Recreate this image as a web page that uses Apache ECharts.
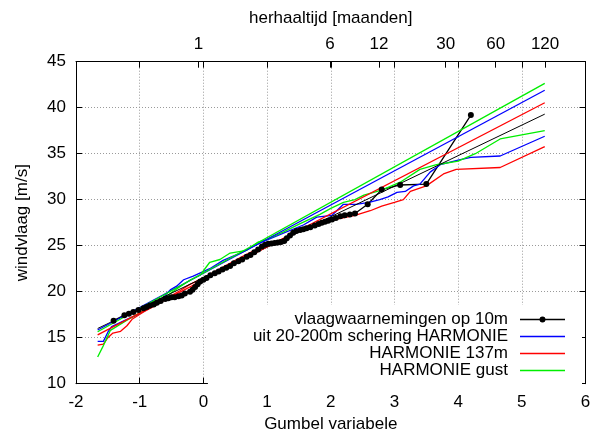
<!DOCTYPE html>
<html><head><meta charset="utf-8">
<script src="https://cdn.jsdelivr.net/npm/echarts@6/dist/echarts.min.js"></script>
<style>html,body{margin:0;padding:0;background:#fff}#c{width:595px;height:440px}</style>
</head><body><div id="c"></div>
<script>
// ---- data (Gumbel variable, wind gust m/s) ----
const obsX = [-1.41,-1.24,-1.17,-1.1,-1.02,-0.94,-0.89,-0.84,-0.78,-0.73,-0.67,-0.6,-0.55,-0.5,-0.45,-0.39,-0.34,-0.29,-0.21,-0.17,-0.13,-0.09,-0.05,0.0,0.05,0.11,0.18,0.24,0.3,0.36,0.42,0.48,0.55,0.61,0.68,0.74,0.8,0.86,0.92,0.97,1.02,1.07,1.12,1.17,1.22,1.27,1.31,1.36,1.41,1.46,1.52,1.57,1.62,1.68,1.75,1.81,1.86,1.91,1.96,2.02,2.08,2.15,2.22,2.3,2.38,2.58,2.8,3.09,3.5,4.2];
const obsY = [16.85,17.45,17.6,17.8,18.0,18.2,18.35,18.5,18.6,18.8,19.0,19.2,19.3,19.4,19.4,19.5,19.6,19.8,20.0,20.2,20.5,20.8,21.1,21.3,21.5,21.8,22.0,22.2,22.4,22.6,22.8,23.1,23.3,23.5,23.8,24.0,24.3,24.6,24.9,25.1,25.2,25.25,25.3,25.35,25.4,25.5,25.8,26.1,26.4,26.6,26.7,26.8,26.9,27.0,27.2,27.35,27.5,27.6,27.7,27.85,28.0,28.2,28.3,28.4,28.5,29.5,31.1,31.6,31.7,39.2];

const shearX = [-1.66,-1.57,-1.5,-1.44,-1.2,-1.0,-0.8,-0.6,-0.52,-0.42,-0.31,-0.16,0.1,0.31,0.58,0.89,1.2,1.57,1.78,2.02,2.2,2.4,2.6,2.77,2.9,3.04,3.17,3.3,3.4,3.56,3.72,4.0,4.2,4.66,5.36];
const shearY = [14.6,14.6,15.6,16.2,17.0,17.6,18.4,19.6,20.2,20.6,21.3,21.7,22.5,23.4,24.2,25.3,26.2,27.25,28.1,28.3,29.5,29.5,29.7,30.0,30.3,30.8,30.9,31.5,31.7,33.0,33.8,34.3,34.6,34.75,36.9];

const h137X = [-1.66,-1.57,-1.5,-1.42,-1.3,-1.2,-1.12,-0.94,-0.73,-0.57,-0.37,-0.21,0.0,0.26,0.58,0.89,1.2,1.52,1.83,2.1,2.38,2.62,2.8,3.0,3.14,3.25,3.5,3.77,3.97,4.66,5.36];
const h137Y = [14.2,14.3,15.0,15.5,15.7,16.3,17.0,17.8,18.6,19.3,20.1,20.8,21.5,22.5,23.7,24.8,25.6,26.6,27.4,27.9,28.3,28.8,29.3,29.7,30.0,30.9,31.5,32.8,33.3,33.5,35.76];

const gustX = [-1.66,-1.58,-1.5,-1.46,-1.2,-1.0,-0.8,-0.6,-0.42,-0.2,-0.05,0.1,0.26,0.42,0.68,0.86,1.0,1.26,1.52,1.83,2.0,2.2,2.38,2.52,2.8,3.09,3.4,3.66,4.0,4.27,4.66,5.36];
const gustY = [12.9,14.0,15.2,15.8,16.9,17.7,18.5,19.4,20.3,21.3,21.8,23.2,23.5,24.2,24.5,25.4,25.7,26.5,27.4,28.4,29.06,29.7,30.0,30.5,31.05,31.9,33.3,33.8,34.2,35.0,36.6,37.5];

// fitted straight lines (start and end)
const fitX = [-1.66, 5.36];
const fitObsY = [16.0, 39.3];
const fitShearY = [15.84, 41.9];
const fit137Y = [15.3, 40.54];
const fitGustY = [15.65, 42.65];

// top axis: return period in months at Gumbel positions
const topTickPos = [-0.078, 1.989, 2.758, 3.805, 4.59, 5.365];
const topTickLabels = ['1', '6', '12', '30', '60', '120'];
const xMajor = [-1, 0, 1, 2, 3, 4, 5];

const names = ['vlaagwaarnemingen op 10m', 'uit 20-200m schering HARMONIE', 'HARMONIE 137m', 'HARMONIE gust'];
const colors = ['#000000', '#0000ff', '#ff0000', '#00ee00'];

const zip = (xs, ys) => xs.map((x, i) => [x, ys[i]]);
const FONT = "'Liberation Sans', Arial, Helvetica, sans-serif";
const FS = 17;
const gridLine = { show: true, lineStyle: { color: '#9a9a9a', type: [1, 2], width: 1 } };

const ICON_DOT = 'path://M0,3.35H45V4.65H0Z M25.5,4A3,3,0,1,1,19.5,4A3,3,0,1,1,25.5,4Z';
const ICON_LINE = 'path://M0,0H45V1.3H0Z';

const chart = echarts.init(document.getElementById('c'), null, { renderer: 'canvas' });
const lineSeries = (name, data, color, extra) => Object.assign({
  type: 'line', name, data, symbol: 'none', silent: true,
  lineStyle: { color, width: 1.3 }, itemStyle: { color },
  xAxisIndex: 0, yAxisIndex: 0, animation: false
}, extra || {});

chart.setOption({
  animation: false,
  backgroundColor: '#fff',
  textStyle: { fontFamily: FONT, color: '#000' },
  grid: { left: 76, right: 9.5, top: 61.7, bottom: 56.3 },
  xAxis: [
    {
      type: 'value', position: 'bottom', min: -2, max: 6, interval: 1,
      name: 'Gumbel variabele', nameLocation: 'middle', nameGap: 32,
      nameTextStyle: { fontSize: FS, color: '#000', fontFamily: FONT },
      axisLine: { show: true, onZero: false, lineStyle: { color: '#000', width: 1 } },
      axisTick: { show: true, inside: true, length: 6, lineStyle: { color: '#000' } },
      axisLabel: { fontSize: FS, color: '#000', margin: 10, fontFamily: FONT },
      splitLine: gridLine
    },
    {
      type: 'value', position: 'top', min: -2, max: 6, interval: 1,
      name: 'herhaaltijd [maanden]', nameLocation: 'middle', nameGap: 35,
      nameTextStyle: { fontSize: FS, color: '#000', fontFamily: FONT },
      axisLine: { show: true, onZero: false, lineStyle: { color: '#000', width: 1 } },
      axisTick: { show: true, inside: true, length: 6, customValues: xMajor.concat(topTickPos), lineStyle: { color: '#000' } },
      axisLabel: {
        show: true, fontSize: FS, color: '#000', margin: 9, fontFamily: FONT,
        customValues: topTickPos,
        formatter: function (v) {
          for (let i = 0; i < topTickPos.length; i++) if (Math.abs(topTickPos[i] - v) < 1e-6) return topTickLabels[i];
          return '';
        }
      },
      splitLine: { show: false }
    }
  ],
  yAxis: [
    {
      type: 'value', position: 'left', min: 10, max: 45, interval: 5,
      name: 'windvlaag [m/s]', nameLocation: 'middle', nameGap: 45,
      nameTextStyle: { fontSize: FS, color: '#000', fontFamily: FONT },
      axisLine: { show: true, onZero: false, lineStyle: { color: '#000', width: 1 } },
      axisTick: { show: true, inside: true, length: 6, lineStyle: { color: '#000' } },
      axisLabel: { fontSize: FS, color: '#000', margin: 10, fontFamily: FONT },
      splitLine: gridLine
    },
    {
      type: 'value', position: 'right', min: 10, max: 45, interval: 5,
      axisLine: { show: true, onZero: false, lineStyle: { color: '#000', width: 1 } },
      axisTick: { show: true, inside: true, length: 6, lineStyle: { color: '#000' } },
      axisLabel: { show: false },
      splitLine: { show: false }
    }
  ],
  legend: {
    data: [
      { name: names[0], icon: ICON_DOT },
      { name: names[1], icon: ICON_LINE },
      { name: names[2], icon: ICON_LINE },
      { name: names[3], icon: ICON_LINE }
    ],
    orient: 'vertical', align: 'right',
    right: 13, top: 305, padding: [6, 17, 6, 45],
    backgroundColor: '#fff', itemWidth: 45, itemHeight: 8, itemGap: 0,
    selectedMode: false,
    textStyle: { fontSize: FS, color: '#000', fontFamily: FONT, lineHeight: 16.5, padding: [0, 7, 0, 0] }
  },
  series: [
    lineSeries(names[0], zip(obsX, obsY), colors[0], { symbol: 'circle', symbolSize: 6, showAllSymbol: true }),
    lineSeries(names[1], zip(shearX, shearY), colors[1]),
    lineSeries(names[2], zip(h137X, h137Y), colors[2]),
    lineSeries(names[3], zip(gustX, gustY), colors[3]),
    lineSeries('fit obs', zip(fitX, fitObsY), colors[0], { lineStyle: { color: colors[0], width: 1 } }),
    lineSeries('fit shear', zip(fitX, fitShearY), colors[1]),
    lineSeries('fit 137', zip(fitX, fit137Y), colors[2]),
    lineSeries('fit gust', zip(fitX, fitGustY), colors[3])
  ]
});
</script>
</body></html>
